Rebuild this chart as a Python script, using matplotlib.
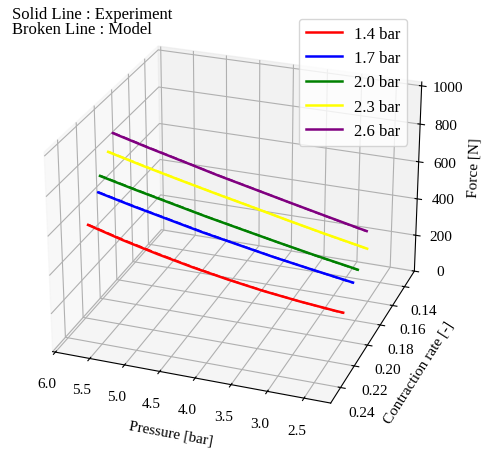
import matplotlib
matplotlib.use('Agg')
import matplotlib.pyplot as plt

plt.rcParams['font.family'] = ['Liberation Serif', 'DejaVu Serif']

# pressure sweep (x), contraction rate (y), force (z) for each curve
pressure = [6.0, 5.5, 5.0, 4.5, 4.0, 3.5, 3.0, 2.5, 2.4]
labels = ['1.4 bar', '1.7 bar', '2.0 bar', '2.3 bar', '2.6 bar']
colors = ['red', 'blue', 'green', 'yellow', 'purple']

contraction = [
    [0.2140, 0.2135, 0.2129, 0.2123, 0.2118, 0.2112, 0.2107, 0.2101, 0.2100],
    [0.2015, 0.2008, 0.2000, 0.1992, 0.1984, 0.1977, 0.1970, 0.1961, 0.1960],
    [0.1990, 0.1976, 0.1963, 0.1948, 0.1934, 0.1921, 0.1907, 0.1892, 0.1890],
    [0.1890, 0.1871, 0.1852, 0.1831, 0.1812, 0.1793, 0.1774, 0.1753, 0.1750],
    [0.1830, 0.1821, 0.1812, 0.1803, 0.1794, 0.1785, 0.1776, 0.1766, 0.1765],
]
force_exp = [
    [468, 415, 368, 326, 290, 258, 233, 212, 209],
    [580, 533, 489, 445, 406, 368, 334, 300, 294],
    [655, 604, 556, 507, 462, 418, 375, 334, 326],
    [736, 680, 627, 574, 524, 473, 424, 376, 367],
    [808, 756, 707, 657, 611, 565, 520, 475, 467],
]
force_model = [
    [470, 418, 371, 328, 291, 259, 233, 211, 208],
    [582, 535, 491, 447, 407, 369, 334, 299, 293],
    [657, 606, 558, 508, 463, 418, 374, 333, 325],
    [738, 682, 628, 575, 525, 473, 423, 375, 366],
    [810, 758, 708, 658, 612, 565, 519, 474, 466],
]

fig = plt.figure(figsize=(4.88, 4.52), dpi=100)
ax = fig.add_axes([0.03, 0.06, 0.9, 0.9], projection='3d')

for i in range(len(labels)):
    ax.plot(pressure, contraction[i], force_exp[i], color=colors[i], lw=1.8,
            label=labels[i])
    ax.plot(pressure, contraction[i], force_model[i], color=colors[i], lw=1.4,
            ls='--')

ax.set_xlim(2.14, 6.04)
ax.set_ylim(0.123, 0.254)
ax.set_zlim(0, 1020)
ax.set_xticks([2.5, 3.0, 3.5, 4.0, 4.5, 5.0, 5.5, 6.0])
ax.set_yticks([0.14, 0.16, 0.18, 0.20, 0.22, 0.24])
ax.set_zticks([0, 200, 400, 600, 800, 1000])
ax.tick_params(labelsize=11)
ax.set_xlabel('Pressure [bar]', fontsize=11)
ax.set_ylabel('Contraction rate [-]', fontsize=11)
ax.set_zlabel('Force [N]', fontsize=11)
ax.view_init(elev=26, azim=110)
ax.set_box_aspect((4, 4, 3), zoom=1.1)

fig.legend(loc='upper right', bbox_to_anchor=(0.851, 0.974), fontsize=12,
           handlelength=2.2, handletextpad=0.7)
fig.text(0.025, 0.985, 'Solid Line : Experiment\nBroken Line : Model',
         va='top', ha='left', fontsize=12, linespacing=0.9)

fig.savefig('out.png', dpi=100)
